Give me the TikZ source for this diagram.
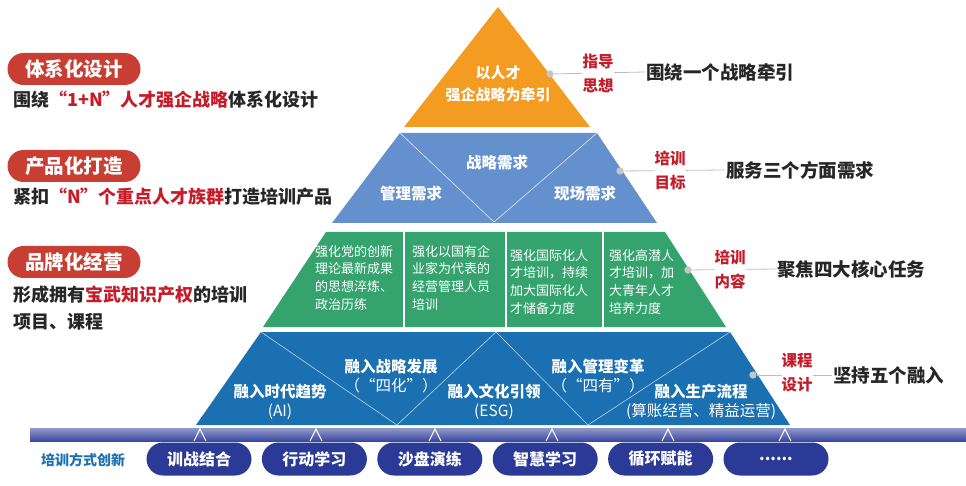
\documentclass[tikz,border=0pt]{standalone}
\usepackage{fontspec}
\setmainfont{Noto Sans CJK SC}
\usetikzlibrary{positioning, calc, shapes.misc}
\definecolor{toporange}{RGB}{244, 155, 33}
\definecolor{goalblue}{RGB}{100, 144, 206}
\definecolor{taskgreen}{RGB}{52, 163, 110}
\definecolor{fuseblue}{RGB}{26, 112, 176}
\definecolor{barblue}{RGB}{58, 72, 160}
\definecolor{pillblue}{RGB}{42, 58, 150}
\definecolor{tagred}{RGB}{200, 62, 50}
\definecolor{keyred}{RGB}{196, 28, 40}

\begin{document}
\begin{tikzpicture}[
        x=1pt, y=-1pt,
        every node/.style={font=\bfseries, inner sep=1pt},
        zig/.style={white!70!fuseblue, line width=0.6pt},
        tagpill/.style={rounded rectangle, fill=tagred, text=white,
          minimum width=135pt, minimum height=32pt, font=\bfseries\fontsize{19.5}{20}\selectfont},
        lefttext/.style={anchor=west, text=black!85, font=\bfseries\fontsize{18}{27}\selectfont},
        sidetag/.style={text=keyred, align=center, font=\bfseries\fontsize{15.5}{24}\selectfont},
        sidetext/.style={anchor=west, text=black!85, font=\bfseries\fontsize{18.5}{19}\selectfont},
        wayline/.style={gray!50, line width=0.8pt},
        waydot/.style={circle, fill=gray!45, inner sep=2.6pt},
        goaltext/.style={text=white, font=\bfseries\fontsize{15.5}{16}\selectfont},
        tasktext/.style={anchor=north west, text=white, align=left,
          font=\fontsize{13}{17.7}\selectfont},
        fusetext/.style={text=white, align=center, font=\bfseries\fontsize{15.5}{19}\selectfont},
        methodpill/.style={rounded rectangle, fill=pillblue, text=white,
          minimum width=107pt, minimum height=33pt, font=\bfseries\fontsize{16}{16}\selectfont}
      ]
        \useasboundingbox (0,0) rectangle (966,486);

        % Pyramid layers
        \fill[toporange] (498,7) -- (590,127) -- (404,127) -- cycle;
        \fill[goalblue] (400,133) -- (597,133) -- (657,223) -- (332,223) -- cycle;
        \fill[taskgreen] (326,232) -- (665,232) -- (726,327) -- (263,327) -- cycle;
        \fill[fuseblue] (261,332) -- (730,332) -- (790,425) -- (196,425) -- cycle;

        % Top: guiding idea
        \node[text=white, align=center, font=\bfseries\fontsize{15}{22}\selectfont]
          (idea) at (498,84) {以人才\\强企战略为牵引};

        % Goals
        \draw[white!80!goalblue, line width=0.6pt] (400,133) -- (494,222) -- (597,133);
        \node[goaltext] (g1) at (497,163) {战略需求};
        \node[goaltext] (g2) at (411,194) {管理需求};
        \node[goaltext] (g3) at (585,194) {现场需求};

        % Core tasks
        \foreach \cx in {404,506,603}
          \draw[white, line width=1.6pt] (\cx,232) -- (\cx,327);
        \node[tasktext] (t1) at (314,244) {强化党的创新\\理论最新成果\\的思想淬炼、\\政治历练};
        \node[tasktext] (t2) at (411,244) {强化以国有企\\业家为代表的\\经营管理人员\\培训};
        \node[tasktext] (t3) at (509,248) {强化国际化人\\才培训，持续\\加大国际化人\\才储备力度};
        \node[tasktext] (t4) at (608,248) {强化高潜人\\才培训，加\\大青年人才\\培养力度};

        % Five fusions
        \draw[zig] (261,332) -- (397,425) -- (496,332) -- (588,425) -- (730,332);
        \node[fusetext] (f1) at (280,402) {融入时代趋势\\{\mdseries (AI)}};
        \node[fusetext] (f2) at (391,376) {融入战略发展\\{\mdseries （“四化”）}};
        \node[fusetext] (f3) at (494,402) {融入文化引领\\{\mdseries (ESG)}};
        \node[fusetext] (f4) at (598,376) {融入管理变革\\{\mdseries （“四有”）}};
        \node[fusetext] (f5) at (701,402) {融入生产流程\\{\mdseries (算账经营、精益运营)}};

        % Method bar
        \shade[top color=barblue!55, bottom color=barblue] (30,428) rectangle (966,441);
        \foreach \mx in {200,316,435,552,668,785}
          \draw[white, line width=1pt] (\mx-6,441) -- (\mx,429) -- (\mx+6,441);
        \node[text=fuseblue, font=\bfseries\fontsize{14}{14}\selectfont] (way) at (83,460) {培训方式创新};
        \node[methodpill] (m1) at (199,459) {训战结合};
        \node[methodpill, right=10pt of m1] (m2) {行动学习};
        \node[methodpill, right=10pt of m2] (m3) {沙盘演练};
        \node[methodpill, right=10pt of m3] (m4) {智慧学习};
        \node[methodpill, right=10pt of m4] (m5) {循环赋能};
        \node[methodpill, right=10pt of m5] (m6) {......};

        % Right side labels
        \node[sidetag] (s1) at (598,73) {指导\\思想};
        \node[waydot] (d1) at (550,74) {};
        \node[sidetext] (r1) at (645,72) {围绕一个战略牵引};
        \draw[wayline] (d1) -- (r1.west);
        \node[sidetag] (s2) at (670,171) {培训\\目标};
        \node[waydot] (d2) at (620,171) {};
        \node[sidetext] (r2) at (725,170) {服务三个方面需求};
        \draw[wayline] (d2) -- (r2.west);
        \node[sidetag] (s3) at (730,270) {培训\\内容};
        \node[waydot] (d3) at (688,270) {};
        \node[sidetext] (r3) at (776,269) {聚焦四大核心任务};
        \draw[wayline] (d3) -- (r3.west);
        \node[sidetag] (s4) at (797,373) {课程\\设计};
        \node[waydot] (d4) at (753,375) {};
        \node[sidetext] (r4) at (832,375) {坚持五个融入};
        \draw[wayline] (d4) -- (r4.west);
        % tags sit on top of the lines
        \foreach \s in {s1,s2,s3,s4}
          \node[sidetag, fill=white, inner sep=0pt, text opacity=0] at (\s) {培训\\目标};
        \node[sidetag] at (s1) {指导\\思想};
        \node[sidetag] at (s2) {培训\\目标};
        \node[sidetag] at (s3) {培训\\内容};
        \node[sidetag] at (s4) {课程\\设计};

        % Left side
        \node[tagpill] (p1) at (74,69) {体系化设计};
        \node[lefttext] (l1) at (12,100) {围绕\textcolor{keyred}{“1+N”人才强企战略}体系化设计};
        \node[tagpill] (p2) at (74,166) {产品化打造};
        \node[lefttext] (l2) at (12,197) {紧扣\textcolor{keyred}{“N”个重点人才族群}打造培训产品};
        \node[tagpill] (p3) at (74,262) {品牌化经营};
        \node[lefttext, align=left] (l3) at (12,308)
          {形成拥有\textcolor{keyred}{宝武知识产权}的培训\\项目、课程};
      \end{tikzpicture}
\end{document}
